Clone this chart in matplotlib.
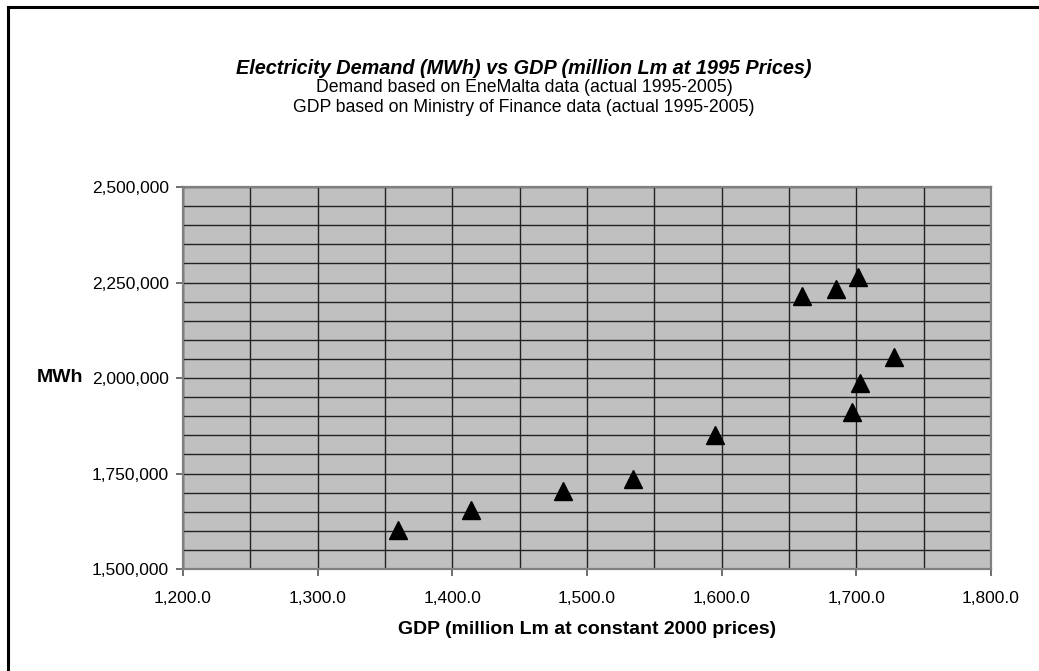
import matplotlib
matplotlib.use("Agg")
import matplotlib.pyplot as plt
from matplotlib.patches import Rectangle
from matplotlib.ticker import MultipleLocator, FuncFormatter

# Data (1995-2005)
gdp = [1360, 1414, 1482, 1534, 1595, 1660, 1685, 1701, 1728, 1703, 1697]
demand = [1602000, 1654000, 1704000, 1735000, 1852000, 2215000, 2234000,
          2265000, 2056000, 1986000, 1912000]

title = "Electricity Demand (MWh) vs GDP (million Lm at 1995 Prices)"
subtitle1 = "Demand based on EneMalta data (actual 1995-2005)"
subtitle2 = "GDP based on Ministry of Finance data (actual 1995-2005)"
xlabel = "GDP (million Lm at constant 2000 prices)"
ylabel = "MWh"

plt.rcParams['font.family'] = ['Liberation Sans', 'DejaVu Sans']

W, H = 1039, 671
fig = plt.figure(figsize=(W / 100, H / 100), dpi=100)
fig.patch.set_facecolor('white')

# outer chart frame (extends beyond the image on right / bottom)
fig.patches.append(Rectangle((8 / W, -0.1), 1.2, 1 - 6.5 / H + 0.1,
                             transform=fig.transFigure, fill=False,
                             edgecolor='black', linewidth=2.2, clip_on=False))

left, right, top, bottom = 183, 991, 187, 569
ax = fig.add_axes([left / W, 1 - bottom / H, (right - left) / W, (bottom - top) / H])
ax.set_facecolor('#C0C0C0')
ax.set_xlim(1200, 1800)
ax.set_ylim(1500000, 2500000)

ax.xaxis.set_major_locator(MultipleLocator(100))
ax.xaxis.set_minor_locator(MultipleLocator(50))
ax.yaxis.set_major_locator(MultipleLocator(250000))
ax.yaxis.set_minor_locator(MultipleLocator(50000))
ax.xaxis.set_major_formatter(FuncFormatter(lambda v, p: f"{v:,.1f}"))
ax.yaxis.set_major_formatter(FuncFormatter(lambda v, p: f"{v:,.0f}"))

ax.grid(True, which='both', color='#222222', linewidth=1.0)
ax.set_axisbelow(True)

ax.tick_params(axis='both', which='major', direction='out', length=5, width=1.2,
               color='#555555', labelsize=12.5, labelcolor='black')
ax.tick_params(axis='x', which='major', pad=11)
ax.tick_params(axis='y', which='major', pad=5)
ax.tick_params(which='minor', length=0)

for s in ax.spines.values():
    s.set_color('#808080')
    s.set_linewidth(1.6)

ax.plot(gdp, demand, linestyle='none', marker='^', markersize=13.5,
        color='black', markeredgecolor='black', zorder=3, clip_on=False)

tx = 524 / W
fig.text(tx, 1 - 68 / H, title, ha='center', va='center', fontsize=14.3,
         fontweight='bold', fontstyle='italic')
fig.text(tx, 1 - 88 / H, subtitle1, ha='center', va='center', fontsize=12.7)
fig.text(tx, 1 - 108 / H, subtitle2, ha='center', va='center', fontsize=12.7)
fig.text((left + right) / 2 / W, 1 - 630 / H, xlabel, ha='center', va='center',
         fontsize=14, fontweight='bold')
fig.text(83 / W, 1 - 378 / H, ylabel, ha='right', va='center', fontsize=14,
         fontweight='bold')

fig.savefig("out.png", dpi=100)
